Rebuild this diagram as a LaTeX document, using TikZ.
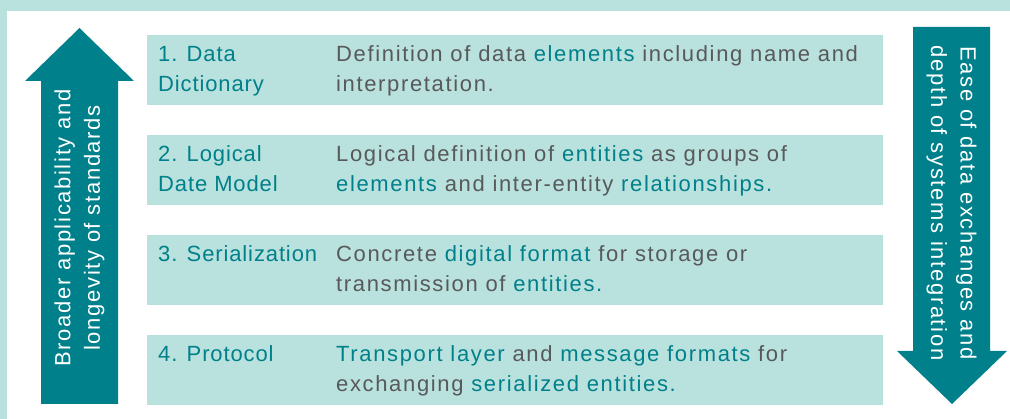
\documentclass[tikz,border=0pt]{standalone}
\usepackage{fontspec}
\setmainfont{Liberation Sans}[LetterSpace=7.5]
\newfontfamily\lblfont{Liberation Sans}[LetterSpace=4]
\definecolor{tealdark}{HTML}{00808A}
\definecolor{teallight}{HTML}{B9E1DD}
\definecolor{txtgray}{HTML}{58595B}
\newcommand{\hlw}[1]{\textcolor{tealdark}{#1}}
\tikzset{
  rowbox/.style={fill=teallight, draw=none, minimum width=736pt, minimum height=70pt, inner sep=0pt, anchor=north west},
  lbl/.style={text=tealdark, font=\lblfont\fontsize{22}{29.5}\selectfont, align=left, anchor=base west, inner sep=0pt},
  desc/.style={text=txtgray, font=\fontsize{22}{29.5}\selectfont, align=left, anchor=base west, inner sep=0pt},
  arrowtxt/.style={text=white, font=\fontsize{22}{29.5}\selectfont, align=center, inner sep=0pt},
  bigarrow/.style={fill=tealdark, draw=none}
}
\begin{document}
\begin{tikzpicture}[x=1pt,y=-1pt]
\useasboundingbox (0,0) rectangle (1010,419);
\fill[teallight] (0,0) rectangle (1010,419);
\fill[white] (7,11) rectangle (1010,419);

% left arrow (up)
\fill[bigarrow] (41,404) -- (41,81) -- (25,81) -- (79.5,28) -- (134,81) -- (118,81) -- (118,404) -- cycle;
\node[arrowtxt, rotate=90] (lefttxt) at (79.5,228) {Broader applicability and\\longevity of standards};

% right arrow (down)
\fill[bigarrow] (913,27) -- (990,27) -- (990,351) -- (1007,351) -- (952,404) -- (897,351) -- (913,351) -- cycle;
\node[arrowtxt, rotate=-90] (righttxt) at (951.5,203) {Ease of data exchanges and\\depth of systems integration};

% rows
\node[rowbox] (b1) at (147,35) {};
\node[rowbox] (b2) at (147,135) {};
\node[rowbox] (b3) at (147,235) {};
\node[rowbox] (b4) at (147,335) {};

% two-line nodes are anchored on the baseline of their last line
\node[lbl] (l1) at (158,91.5) {1. Data\\Dictionary};
\node[lbl] (l2) at (158,191.5) {2. Logical\\Date Model};
\node[lbl] (l3) at (158,262) {3. Serialization};
\node[lbl] (l4) at (158,362) {4. Protocol};

\node[desc] (d1) at (336,91.5) {Definition of data \hlw{elements} including name and\\interpretation.};
\node[desc] (d2) at (336,191.5) {Logical definition of \hlw{entities} as groups of\\\hlw{elements} and inter-entity \hlw{relationships.}};
\node[desc] (d3) at (336,291.5) {Concrete \hlw{digital format} for storage or\\transmission of \hlw{entities.}};
\node[desc] (d4) at (336,391.5) {\hlw{Transport layer} and \hlw{message formats} for\\exchanging \hlw{serialized entities.}};
\end{tikzpicture}
\end{document}
